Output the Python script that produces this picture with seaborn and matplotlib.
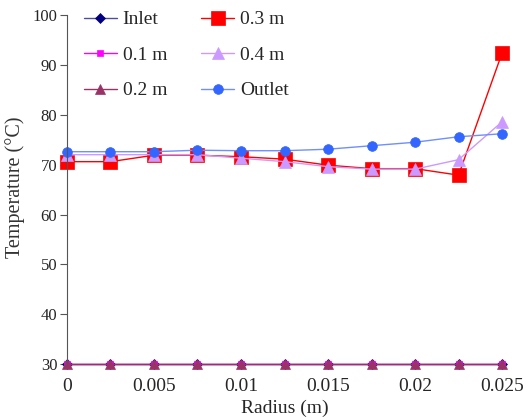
import seaborn as sns
import matplotlib.pyplot as plt
import pandas as pd

radius = [0, 0.0025, 0.005, 0.0075, 0.01, 0.0125, 0.015, 0.0175, 0.02, 0.0225, 0.025]
inlet = [30] * 11
t01 = [30] * 11
t02 = [30] * 11
t03 = [70.6, 70.6, 71.9, 71.9, 71.6, 71.1, 69.9, 69.2, 69.2, 67.9, 92.4]
t04 = [72.0, 72.0, 72.0, 72.0, 71.3, 70.6, 69.6, 69.1, 69.1, 71.0, 78.6]
outlet = [72.6, 72.6, 72.6, 72.9, 72.8, 72.8, 73.1, 73.8, 74.5, 75.6, 76.2]

series = ['Inlet', '0.1 m', '0.2 m', '0.3 m', '0.4 m', 'Outlet']
values = [inlet, t01, t02, t03, t04, outlet]
styles = {
    'Inlet': dict(color='#000080', marker='D', markersize=5),
    '0.1 m': dict(color='#FF00FF', marker='s', markersize=5),
    '0.2 m': dict(color='#993366', marker='^', markersize=7),
    '0.3 m': dict(color='#FF0000', marker='s', markersize=9.5),
    '0.4 m': dict(color='#CC99FF', marker='^', markersize=8),
    'Outlet': dict(color='#3366FF', marker='o', markersize=7),
}
line_colors = {'Outlet': '#6f8fff', 'Inlet': '#4d4d9a'}

df = pd.concat([pd.DataFrame({'Radius': radius, 'Temp': v, 'Series': s})
                for s, v in zip(series, values)])

sns.set_style('ticks')
plt.rcParams['font.family'] = ['Liberation Serif', 'DejaVu Serif']

fig = plt.figure(figsize=(5.23, 4.19), dpi=100)
ax = fig.add_axes([0.128, 0.131, 0.832, 0.833])

for s in series:
    st = styles[s]
    sub = df[df['Series'] == s]
    sns.lineplot(data=sub, x='Radius', y='Temp', ax=ax, label=s,
                 color=line_colors.get(s, st['color']), marker=st['marker'],
                 markersize=st['markersize'], markerfacecolor=st['color'],
                 markeredgecolor=st['color'], markeredgewidth=0.5,
                 linewidth=1, clip_on=False)

ax.set_xlim(0, 0.025)
ax.set_ylim(30, 100)
ax.set_xticks([0, 0.005, 0.01, 0.015, 0.02, 0.025])
ax.set_xticklabels(['0', '0.005', '0.01', '0.015', '0.02', '0.025'])
ax.set_yticks(range(30, 101, 10))
ax.tick_params(axis='y', direction='out', length=5, color='#555555', labelsize=12, pad=2)
ax.tick_params(axis='x', length=0, labelsize=14, pad=10)
for sp in ['top', 'right', 'bottom']:
    ax.spines[sp].set_visible(False)
ax.spines['left'].set_color('#555555')
ax.set_xlabel('Radius (m)', fontsize=14, va='center')
ax.xaxis.set_label_coords(0.5, -0.126)
ax.set_ylabel('Temperature (°C)', fontsize=14.5, color='#333333', va='center')
ax.yaxis.set_label_coords(-0.12, 0.507)

ax.legend(ncol=2, loc='upper left', bbox_to_anchor=(0.145, 0.993),
          bbox_transform=fig.transFigure, borderaxespad=0, frameon=False,
          fontsize=14, handlelength=1.7, handletextpad=0.3,
          columnspacing=1.75, labelspacing=0.92)

fig.savefig('out.png', dpi=100)
